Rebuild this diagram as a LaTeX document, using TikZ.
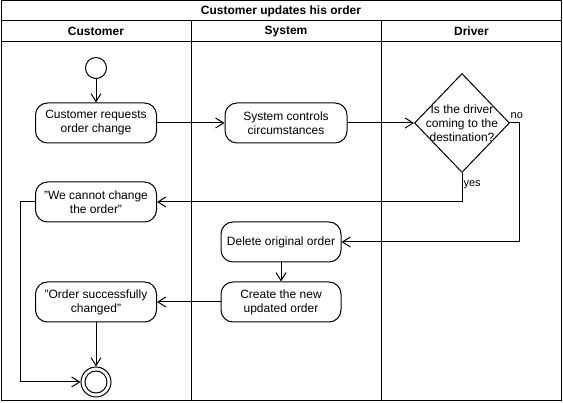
\documentclass[tikz,border=0pt]{standalone}
\usepackage{fontspec}
\setmainfont{Liberation Sans}
\usetikzlibrary{arrows.meta, shapes.geometric, positioning}

\begin{document}
\begin{tikzpicture}[
            x=1pt, y=-1pt,
            line width=1pt,
            font=\fontsize{12}{14}\selectfont,
            heading/.style={font=\fontsize{12}{14}\selectfont\bfseries},
            action/.style={draw, rounded corners=12pt, minimum width=121pt, minimum height=40pt, align=center, inner sep=0pt},
            decision/.style={draw, diamond, minimum width=95pt, minimum height=99pt, inner sep=0pt},
            flow/.style={-{Straight Barb[length=8pt, width=10pt]}},
            guard/.style={font=\fontsize{11}{13}\selectfont, inner sep=1pt}
        ]
        \useasboundingbox (0, 0) rectangle (563, 403);
        % swimlanes
        \draw (1, 1) rectangle (561.5, 400.5);
        \draw (1, 21) -- (561.5, 21);
        \draw (1, 42) -- (561.5, 42);
        \draw (191, 21) -- (191, 400.5);
        \draw (381.5, 21) -- (381.5, 400.5);
        \node(titleLabel) at (281, 11.5)[heading] {Customer updates his order};
        \node(customerLane) at (96, 31.5)[heading] {Customer};
        \node(systemLane) at (286, 31.5)[heading] {System};
        \node(driverLane) at (471.5, 31.5)[heading] {Driver};

        % activities
        \node(startNode) at (96, 68)[circle, draw, minimum size=21pt, inner sep=0pt] {};
        \node(reqBox) at (96, 123)[action] {Customer requests\\order change};
        \node(ctrlBox) at (286, 123)[action, minimum width=122pt] {System controls\\circumstances};
        \node(driverDec) at (462, 123)[decision,
            label={[align=center]center:Is the driver\\coming to the\\destination?}] {};
        \node(cannotBox) at (96, 202)[action] {"We cannot change\\the order"};
        \node(deleteBox) at (281, 242)[action, minimum width=120pt] {Delete original order};
        \node(createBox) at (281, 302)[action, minimum width=120pt] {Create the new\\updated order};
        \node(successBox) at (96, 302)[action] {"Order successfully\\changed"};
        \node(endNode) at (96, 382)[circle, draw, minimum size=30pt, inner sep=0pt] {};
        \draw (endNode.center) circle (11pt);

        \coordinate (noBend) at (519.5, 123);
        \coordinate (leftBend) at (20.5, 202);

        \draw[flow] (startNode) -- (reqBox);
        \draw[flow] (reqBox) -- (ctrlBox);
        \draw[flow] (ctrlBox) -- (driverDec);
        \draw[flow] (driverDec.south) |- node[guard, pos=0.2, anchor=west] {yes} (cannotBox.east);
        \draw[flow] (driverDec.east) -- node[guard, above, xshift=2pt, yshift=3pt] {no} (noBend) |- (deleteBox.east);
        \draw[flow] (deleteBox) -- (createBox);
        \draw[flow] (createBox) -- (successBox);
        \draw[flow] (successBox) -- (endNode);
        \draw[flow] (cannotBox.west) -- (leftBend) |- (endNode.west);
    \end{tikzpicture}
\end{document}
